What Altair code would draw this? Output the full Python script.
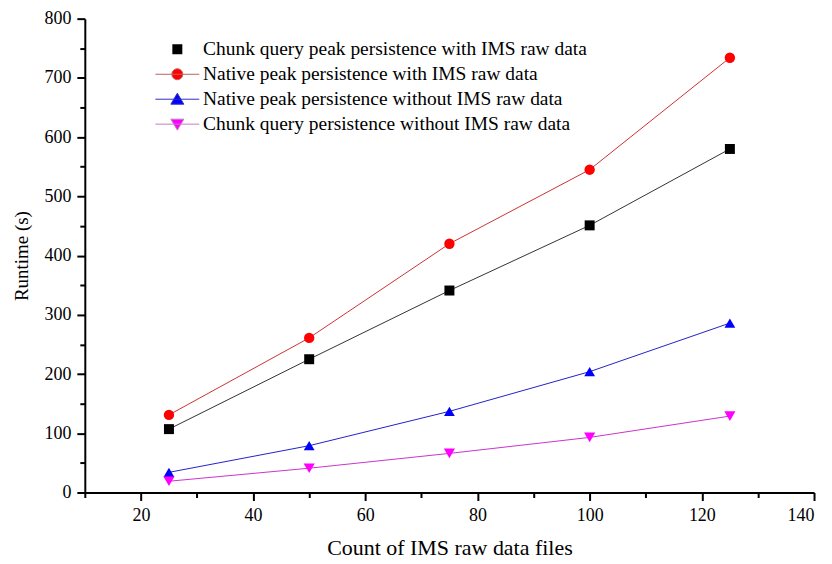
import altair as alt
import pandas as pd

files = [25, 50, 75, 100, 125]
series = [
    "Chunk query peak persistence with IMS raw data",
    "Native peak persistence with IMS raw data",
    "Native peak persistence without IMS raw data",
    "Chunk query persistence without IMS raw data",
]
chunk_with = [107, 225, 341, 451, 580]
native_with = [131, 261, 420, 545, 734]
native_without = [34, 79, 137, 204, 286]
chunk_without = [19, 41, 66, 93, 129]

marker_colors = ["#000000", "#ff0000", "#0000ff", "#ff00ff"]
line_colors = ["#333333", "#cc3333", "#2222cc", "#cc33cc"]
legend_line_colors = ["transparent", "#c06060", "#3030c0", "#c080c0"]
shapes = ["square", "circle", "triangle-up", "triangle-down"]
marker_sizes = [100, 125, 170, 170]
# legend glyphs: line segment + marker (pixel units, symbolSize=4 -> scale 1)
legend_paths = [
    "M-22,0H22M-5,-5H5V5H-5Z",
    "M-22,0H22M-5.5,0A5.5,5.5 0 1,0 5.5,0A5.5,5.5 0 1,0 -5.5,0Z",
    "M-22,0H22M0,-6L6.5,5L-6.5,5Z",
    "M-22,0H22M0,6L6.5,-5L-6.5,-5Z",
]

rows = []
for name, vals in zip(series, [chunk_with, native_with, native_without, chunk_without]):
    for f, v in zip(files, vals):
        rows.append({"files": f, "runtime": v, "series": name})
df = pd.DataFrame(rows)

FONT = "Liberation Serif"

x_axis = alt.Axis(
    values=list(range(10, 141, 10)),
    labelExpr="datum.value % 20 === 0 ? datum.label : ''",
    tickSize={"condition": {"test": "datum.value % 20 === 0", "value": 8}, "value": 5},
    grid=False,
    title="Count of IMS raw data files",
    titleFontSize=22,
    labelPadding=6,
    titlePadding=13,
)
y_axis = alt.Axis(
    values=list(range(0, 801, 50)),
    labelExpr="datum.value % 100 === 0 ? datum.label : ''",
    tickSize={"condition": {"test": "datum.value % 100 === 0", "value": 8}, "value": 5},
    grid=False,
    title="Runtime (s)",
    titleFontSize=19,
    labelPadding=6,
    titlePadding=12,
)

x = alt.X("files:Q", scale=alt.Scale(domain=[10, 140], nice=False), axis=x_axis)
y = alt.Y("runtime:Q", scale=alt.Scale(domain=[0, 800], nice=False), axis=y_axis)

lines = alt.Chart(df).mark_line(strokeWidth=1).encode(
    x=x, y=y,
    color=alt.Color("series:N", scale=alt.Scale(domain=series, range=line_colors), legend=None),
    detail="series:N",
)

points = alt.Chart(df).mark_point(filled=True, opacity=1).encode(
    x=x, y=y,
    color=alt.Color("series:N", scale=alt.Scale(domain=series, range=marker_colors), legend=None),
    shape=alt.Shape("series:N", scale=alt.Scale(domain=series, range=shapes), legend=None),
    size=alt.Size("series:N", scale=alt.Scale(domain=series, range=marker_sizes), legend=None),
)

leg = alt.Legend(
    orient="none", legendX=83, legendY=21, title=None,
    symbolSize=4, symbolOpacity=1, symbolStrokeWidth=1,
    labelOffset=16, labelFont=FONT, labelFontSize=19.5, labelColor="#000000",
    labelLimit=800, rowPadding=4, padding=0,
)

legend_layer = alt.Chart(df).mark_point(filled=True, opacity=0).encode(
    x=x, y=y,
    fill=alt.Fill("series:N", scale=alt.Scale(domain=series, range=marker_colors), legend=leg),
    stroke=alt.Stroke("series:N", scale=alt.Scale(domain=series, range=legend_line_colors), legend=leg),
    shape=alt.Shape("series:N", scale=alt.Scale(domain=series, range=legend_paths), legend=leg),
)

chart = alt.layer(lines, points, legend_layer).resolve_scale(
    color="independent", shape="independent", fill="independent",
    stroke="independent", size="independent",
).properties(
    width=731, height=475,
    padding={"left": 77, "top": 10, "right": 10, "bottom": 70},
    autosize=alt.AutoSizeParams(type="none"),
).configure_view(stroke=None).configure_axis(
    domainColor="#000000", domainWidth=2, tickColor="#000000", tickWidth=2,
    labelFont=FONT, labelFontSize=18, labelColor="#000000",
    titleFont=FONT, titleColor="#000000", titleFontWeight="normal",
)

chart.save("out.html", embed_options={"renderer": "svg", "actions": False})
